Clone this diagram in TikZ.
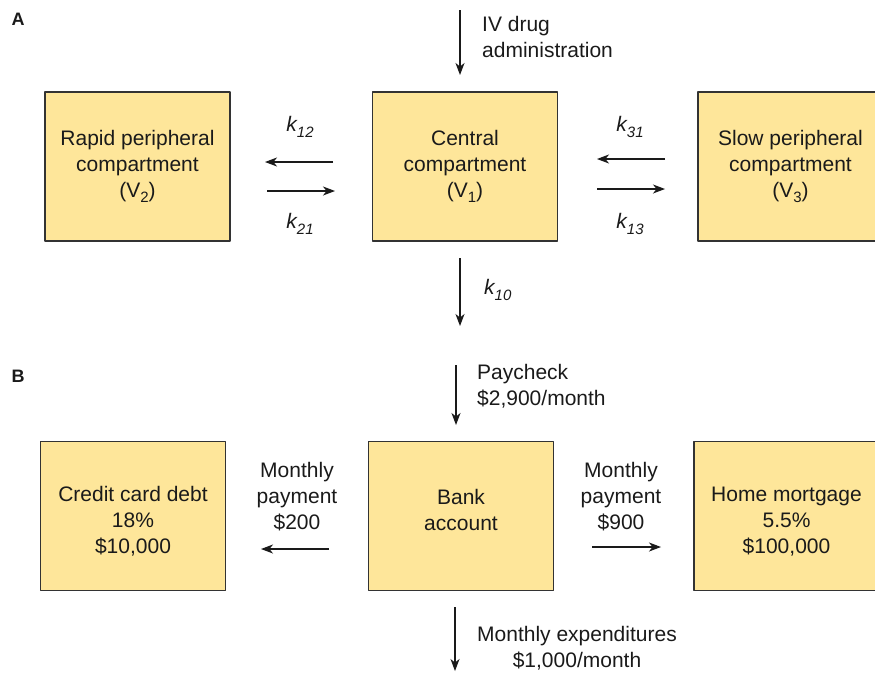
\documentclass[tikz,border=0pt]{standalone}
\usepackage{fontspec}
\setmainfont{Liberation Sans}
\usetikzlibrary{arrows.meta}
\definecolor{pad}{HTML}{FEE69A}
\definecolor{rim}{HTML}{333333}
\definecolor{ink}{HTML}{1A1A1A}
\newcommand\lowsub[1]{\raisebox{-5.5pt}{\fontsize{15}{15}\selectfont#1}}
\tikzset{fig/.style={x=1pt,y=-1pt,line join=round,>={Stealth[length=12pt,width=9pt,inset=3.5pt]}},
  comp/.style={draw=rim,line width=1.3pt,fill=pad,minimum width=185pt,minimum height=149pt,inner sep=0pt},
  lbl/.style={font=\fontsize{21}{26}\selectfont,text=ink,inner sep=0pt},
  boxtxt/.style={lbl,align=center},
  flow/.style={ink,line width=1.1pt,->},
  part/.style={font=\fontsize{18}{20}\selectfont\bfseries,text=ink,inner sep=0pt}}

\begin{document}
\begin{tikzpicture}[fig]
  \useasboundingbox(0,0)rectangle(875,673);
  \clip(0,0)rectangle(875,673);
  % A -- three compartment model
  \node[part](pa)at(18,19){A};
  \node[comp,label={[boxtxt]center:Rapid peripheral\\compartment\\(V\lowsub{2})}](rap)at(137.5,166.5){};
  \node[comp,label={[boxtxt]center:Central\\compartment\\(V\lowsub{1})}](cen)at(465,166.5){};
  \node[comp,label={[boxtxt]center:Slow peripheral\\compartment\\(V\lowsub{3})}](slo)at(790.5,166.5){};
  \coordinate(ivin)at(460,10);\coordinate(ivout)at(460,75);
  \draw[flow](ivin)--(ivout);
  \node[lbl,anchor=west,align=left](ivtxt)at(482,37){IV drug\\administration};
  % exchange with the rapid compartment
  \coordinate(cr1)at(333,162);\coordinate(rc1)at(265,162);
  \coordinate(rc2)at(267,191);\coordinate(cr2)at(335,191);
  \draw[flow](cr1)--(rc1);\draw[flow](rc2)--(cr2);
  \node[lbl](k12)at(300,127){\itshape k\lowsub{12}};
  \node[lbl](k21)at(300,224){\itshape k\lowsub{21}};
  % exchange with the slow compartment
  \coordinate(sc1)at(665,159);\coordinate(cs1)at(597,159);
  \coordinate(cs2)at(597,189);\coordinate(sc2)at(665,189);
  \draw[flow](sc1)--(cs1);\draw[flow](cs2)--(sc2);
  \node[lbl](k31)at(630,127){\itshape k\lowsub{31}};
  \node[lbl](k13)at(630,224){\itshape k\lowsub{13}};
  % elimination
  \coordinate(elin)at(460,258);\coordinate(elout)at(460,326);
  \draw[flow](elin)--(elout);
  \node[lbl,anchor=west](k10)at(484,290){\itshape k\lowsub{10}};
  % B -- the same idea with money
  \node[part](pb)at(18,376){B};
  \node[comp,label={[boxtxt,yshift=-5pt]center:Credit card debt\\18\%\\\$10,000}](crd)at(133,516){};
  \node[comp,label={[boxtxt,yshift=6pt]center:Bank\\account}](bnk)at(461,516){};
  \node[comp,label={[boxtxt,yshift=-6pt]center:Home mortgage\\5.5\%\\\$100,000}](mtg)at(786.5,516){};
  \coordinate(payin)at(456,365);\coordinate(payout)at(456,425);
  \draw[flow](payin)--(payout);
  \node[lbl,anchor=west,align=left](paytxt)at(477,386){Paycheck\\\$2,900/month};
  \coordinate(bc)at(329,549);\coordinate(cb)at(261,549);
  \draw[flow](bc)--(cb);
  \node[lbl,align=center](pay200)at(297,497){Monthly\\payment\\\$200};
  \coordinate(bm)at(592,547);\coordinate(mb)at(661,547);
  \draw[flow](bm)--(mb);
  \node[lbl,align=center](pay900)at(621,497){Monthly\\payment\\\$900};
  \coordinate(expin)at(455,607);\coordinate(expout)at(455,671);
  \draw[flow](expin)--(expout);
  \node[lbl,anchor=west,align=center](exptxt)at(477,648){Monthly expenditures\\\$1,000/month};
\end{tikzpicture}
\end{document}
